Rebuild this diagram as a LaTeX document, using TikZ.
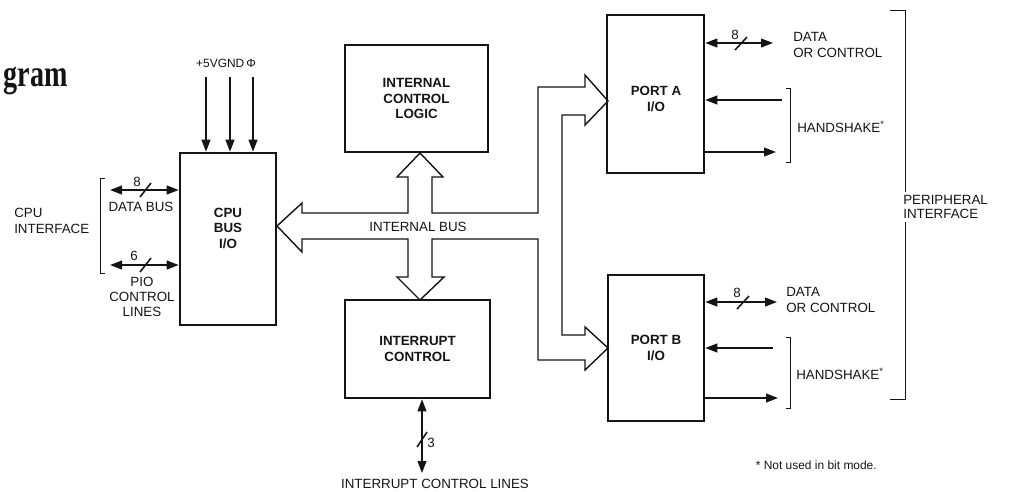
\documentclass[tikz,border=0pt]{standalone}
\usepackage{fontspec}
\setmainfont{Liberation Sans}
\newfontfamily\gramfont{Liberation Serif}
\usepackage{graphicx}
\usepackage{xcolor}
\definecolor{pioink}{HTML}{141414}
\usetikzlibrary{arrows.meta}

\begin{document}
\begin{tikzpicture}[x=0.25mm, y=-0.25mm, >={Triangle[length=3mm,width=2.2mm]},
                    every node/.style={pioink, inner sep=0pt,
                      font=\fontsize{9.5}{11.5}\selectfont},
                    blk/.style={draw=pioink, line width=1.8pt},
                    blklbl/.style={align=center,
                      font=\fontsize{9.5}{11}\selectfont\bfseries},
                    sig/.style={pioink, line width=1.1pt},
                    brk/.style={pioink, line width=0.6pt},
                    small/.style={font=\fontsize{8.5}{10}\selectfont}]

  \useasboundingbox (0,0) rectangle (1010,491);

  %% 左上角殘留的標題字
  \node[anchor=base east, font=\gramfont\bfseries\fontsize{27}{27}\selectfont]
    (ttl) at (68,86) {\scalebox{0.74}[1]{gram}};

  %% 五個功能方塊
  \node[blk, minimum width=24mm, minimum height=43mm] (cpu) at (228,239) {};
  \node[blklbl] (cpulbl) at (228,228) {CPU\\BUS\\I/O};
  \node[blk, blklbl, minimum width=35.75mm, minimum height=26.75mm]
    (icl) at (416.5,98.5) {INTERNAL\\CONTROL\\LOGIC};
  \node[blk, blklbl, minimum width=36.25mm, minimum height=24.5mm]
    (intc) at (417.5,349) {INTERRUPT\\CONTROL};
  \node[blk, minimum width=24.25mm, minimum height=39.5mm] (porta) at (655.5,94) {};
  \node[blklbl] (portalbl) at (656,99) {PORT A\\I/O};
  \node[blk, blklbl, minimum width=24mm, minimum height=36.5mm]
    (portb) at (656,348) {PORT B\\I/O};

  %% 電源與時脈輸入
  \node[small] (pwr) at (226,63) {+5VGND\,Φ};
  \foreach \x in {206,230,253}
    \draw[sig, ->] (\x,77) -- (\x,77 |- cpu.north);

  %% CPU 介面: 資料匯流排與控制線
  \coordinate (cdb) at (110,190);
  \coordinate (cpio) at (110,265);
  \draw[sig, <->] (cdb) -- (cdb -| cpu.west);
  \draw[sig, <->] (cpio) -- (cpio -| cpu.west);
  \draw[sig] (140,197) -- (151,183);
  \draw[sig] (140,272) -- (151,258);
  \node (n8) at (137,182) {8};
  \node (n6) at (134,256) {6};
  \node (dbus) at (141,207) {DATA BUS};
  \node[align=center, font=\fontsize{9.5}{10.5}\selectfont]
    (pio) at (142,297) {PIO\\CONTROL\\LINES};
  \draw[brk] (105,178) -- (100,178) -- (100,273) -- (105,273);
  \node[anchor=west, align=left] (cpuif) at (14,221) {CPU\\INTERFACE};

  %% 內部匯流排 (空心箭頭外框)
  \draw[pioink, line width=1pt]
    (277,226) -- (302,203) -- (302,213) -- (408,213) -- (408,177)
    -- (397,177) -- (420,153) -- (443,177) -- (432,177) -- (432,213)
    -- (538,213) -- (538,87) -- (585,87) -- (585,75) -- (608,101)
    -- (585,125) -- (585,115) -- (562,115) -- (562,335) -- (585,335)
    -- (585,327) -- (608,348) -- (585,370) -- (585,360) -- (538,360)
    -- (538,239) -- (432,239) -- (432,277) -- (444,277) -- (420,300)
    -- (397,277) -- (408,277) -- (408,239) -- (302,239) -- (302,252)
    -- cycle;
  \node (ibus) at (418,227) {INTERNAL BUS};

  %% 中斷控制線
  \coordinate (irl) at (422,473);
  \draw[sig, <->] (irl |- intc.south) -- (irl);
  \draw[sig] (417,447) -- (427,432);
  \node (n3) at (431,443) {3};
  \node (irlbl) at (435,484) {INTERRUPT CONTROL LINES};

  %% 埠 A 的資料線與交握線
  \coordinate (pad) at (773,43);
  \draw[sig, <->] (pad -| porta.east) -- (pad);
  \draw[sig] (735,50) -- (747,37);
  \node (n8a) at (735,35) {8};
  \node[anchor=west, align=left] (dataa) at (793,45) {DATA\\OR CONTROL};
  \coordinate (pah1) at (782,100);
  \coordinate (pah2) at (776,152);
  \draw[sig, ->] (pah1) -- (pah1 -| porta.east);
  \draw[sig, ->] (pah2 -| porta.east) -- (pah2);
  \draw[brk] (786,88) -- (790,88) -- (790,162) -- (786,162);
  \node[anchor=west] (hsa) at (797,127) {HANDSHAKE\textsuperscript{*}};

  %% 埠 B 的資料線與交握線
  \coordinate (pbd) at (777,302);
  \draw[sig, <->] (pbd -| portb.east) -- (pbd);
  \draw[sig] (737,309) -- (749,296);
  \node (n8b) at (737,293) {8};
  \node[anchor=west, align=left] (datab) at (786,300) {DATA\\OR CONTROL};
  \coordinate (pbh1) at (773,348);
  \coordinate (pbh2) at (778,398);
  \draw[sig, ->] (pbh1) -- (pbh1 -| portb.east);
  \draw[sig, ->] (pbh2 -| portb.east) -- (pbh2);
  \draw[brk] (786,337) -- (790,337) -- (790,408) -- (786,408);
  \node[anchor=west] (hsb) at (796,374) {HANDSHAKE\textsuperscript{*}};

  %% 周邊介面的大括弧
  \draw[brk] (890,10) -- (905,10) -- (905,192);
  \draw[brk] (905,222) -- (905,399) -- (890,399);
  \node[anchor=west, align=left, font=\fontsize{9.5}{10}\selectfont]
    (perif) at (903,207) {PERIPHERAL\\INTERFACE};

  %% 註腳
  \node[anchor=east, font=\fontsize{8.5}{10}\selectfont]
    (note) at (877,465) {* Not used in bit mode.};

\end{tikzpicture}
\end{document}
